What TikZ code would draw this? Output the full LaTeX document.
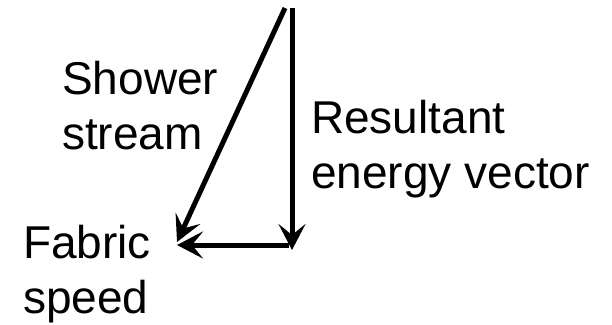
\documentclass[tikz,border=0pt]{standalone}
\usepackage{fontspec}
\setmainfont{Liberation Sans}
\usepackage{tikz}
\usetikzlibrary{arrows.meta,positioning}

\begin{document}
\begin{tikzpicture}[x=1pt, y=-1pt, every node/.style={inner sep=0pt, align=left, anchor=north west, font=\fontsize{46}{55}\selectfont}, vec/.style={-{Stealth[length=26pt, width=27pt, inset=11pt]}, line width=5pt}]
      \useasboundingbox (0,0) rectangle (612,324);
      \coordinate (stop) at (285,8);
      \coordinate (rtop) at (292,8);
      \coordinate (rend) at (292,250);
      \coordinate (fstart) at (289,245);
      \coordinate (fend) at (177,245);
      \coordinate (send) at (177,242);
      \node (shower) at (62,61) {Shower\\stream};
      \node (result) at (311,100) {Resultant\\energy vector};
      \node (fabric) at (23,225) {Fabric\\speed};
      \draw[vec] (stop) -- (send);
      \draw[vec] (rtop) -- (rend);
      \draw[vec] (fstart) -- (fend);
    \end{tikzpicture}
\end{document}
